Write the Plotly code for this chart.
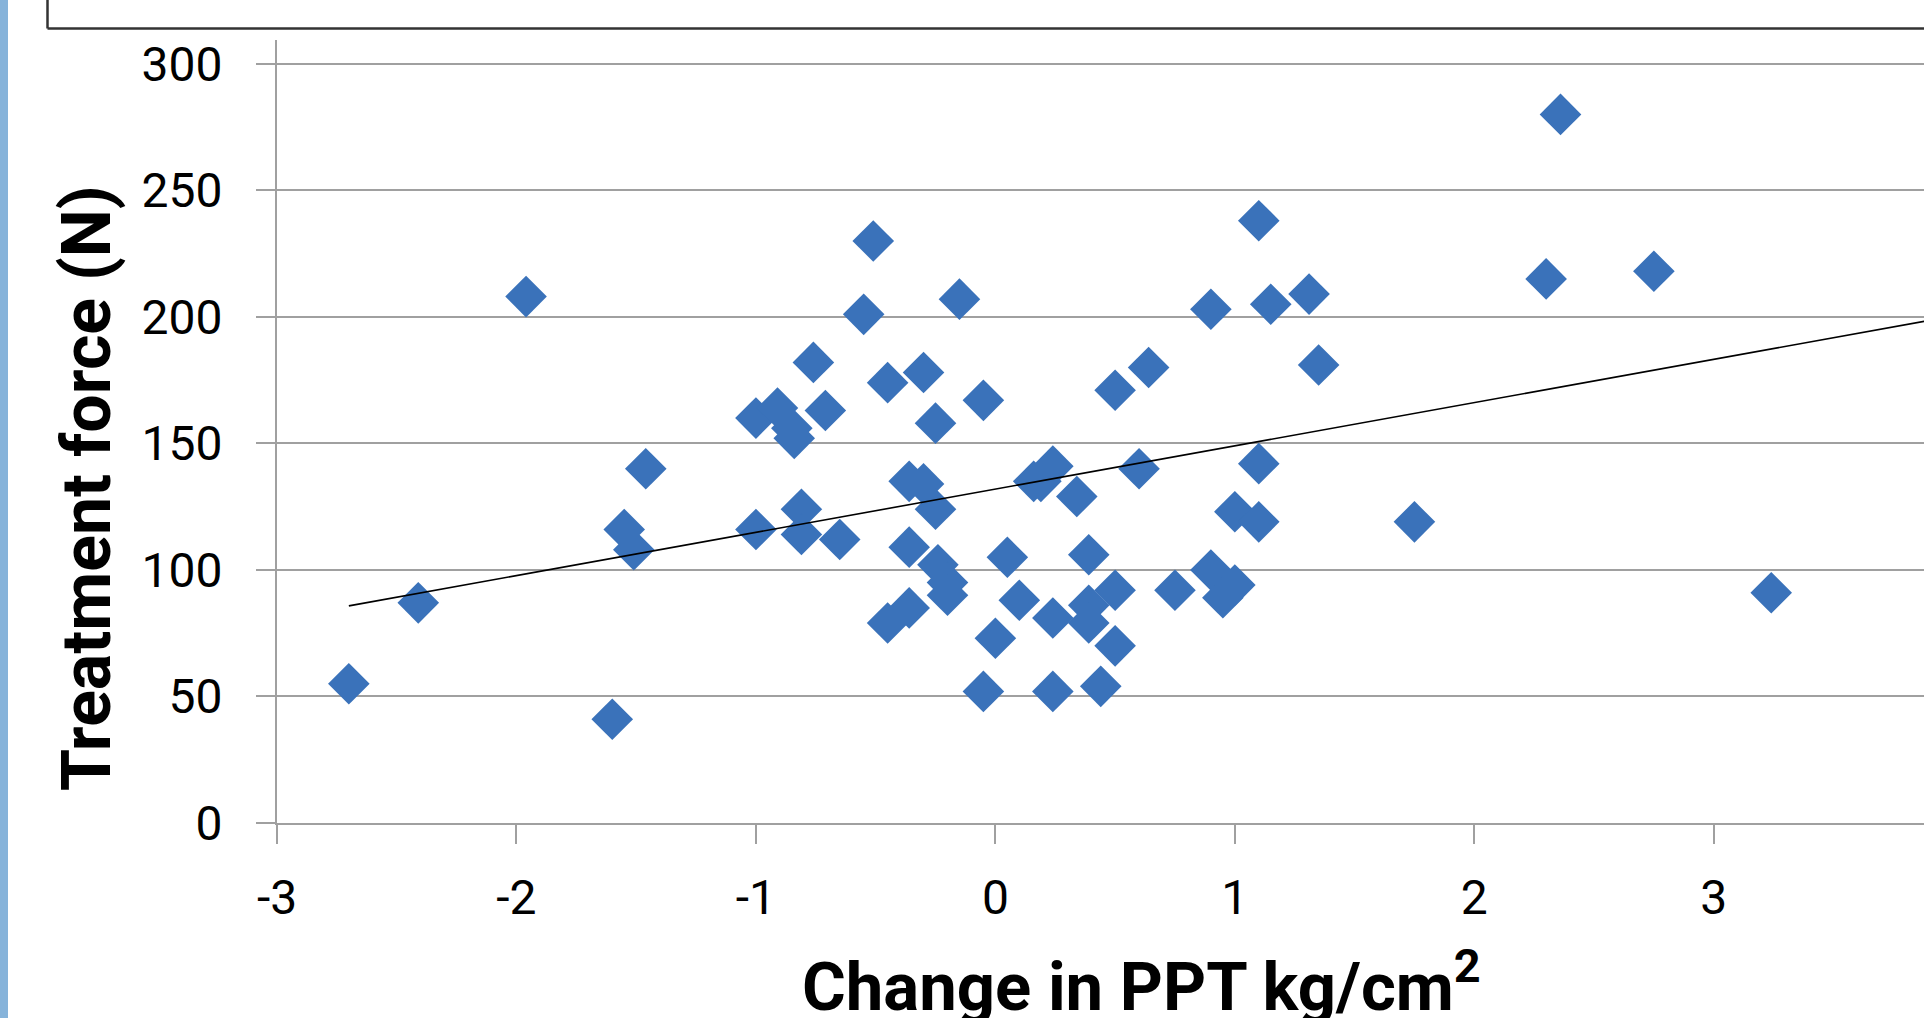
import plotly.graph_objects as go

# Data
ppt_change = [-2.70, -2.41, -1.96, -1.60, -1.55, -1.51, -1.46, -1.00, -1.00, -0.91,
              -0.85, -0.84, -0.81, -0.81, -0.76, -0.71, -0.65, -0.55, -0.51, -0.45,
              -0.45, -0.36, -0.36, -0.36, -0.30, -0.30, -0.25, -0.25, -0.24, -0.20,
              -0.20, -0.15, -0.05, -0.05, 0.00, 0.05, 0.10, 0.16, 0.19, 0.24,
              0.24, 0.24, 0.34, 0.39, 0.39, 0.39, 0.44, 0.50, 0.50, 0.50,
              0.60, 0.64, 0.75, 0.90, 0.90, 0.95, 1.00, 1.00, 1.10, 1.10,
              1.10, 1.15, 1.31, 1.35, 1.75, 2.30, 2.36, 2.75, 3.24]
treatment_force = [55, 87, 208, 41, 116, 108, 140, 160, 116, 164,
                   156, 152, 124, 114, 182, 163, 112, 201, 230, 174,
                   79, 85, 135, 109, 178, 134, 158, 124, 102, 95,
                   90, 207, 167, 52, 73, 105, 88, 135, 135, 141,
                   81, 52, 129, 106, 86, 79, 54, 92, 70, 171,
                   140, 180, 92, 203, 100, 89, 94, 123, 238, 142,
                   119, 205, 209, 181, 119, 215, 280, 218, 91]

# Linear trendline end points
trend_x = [-2.70, 4.00]
trend_y = [85.8, 200.3]

x_tickvals = [-3, -2, -1, 0, 1, 2, 3]
x_ticktext = ["-3", "-2", "-1", "0", "1", "2", "3"]
y_tickvals = [0, 50, 100, 150, 200, 250, 300]
y_ticktext = ["0", "50", "100", "150", "200", "250", "300"]

x_title = "Change in PPT kg/cm<sup>2</sup>"
y_title = "Treatment force (N)"

GRID = "#A0A0A0"
FONT = "Roboto"

fig = go.Figure()
fig.add_trace(go.Scatter(
    x=ppt_change, y=treatment_force, mode="markers",
    marker=dict(symbol="diamond", size=32, color="#3A72BA", line=dict(width=0)),
    hoverinfo="x+y",
))
fig.add_trace(go.Scatter(
    x=trend_x, y=trend_y, mode="lines",
    line=dict(color="#000000", width=1.6),
    hoverinfo="skip",
))

W, H = 1924, 1018
ml, mr, mt, mb = 277, 0, 40, 195
pw = W - ml - mr
ph = H - mt - mb


def px_x(p):
    return (p - ml) / pw


def px_y(p):
    return (H - mb - p) / ph


fig.update_layout(
    width=W, height=H,
    margin=dict(l=ml, r=mr, t=mt, b=mb, pad=0),
    paper_bgcolor="white", plot_bgcolor="white",
    showlegend=False,
    font=dict(family=FONT, color="#000000"),
    xaxis=dict(
        range=[-3, 3.878], tickmode="array", tickvals=x_tickvals, ticktext=x_ticktext,
        ticks="outside", ticklen=19, tickwidth=2, tickcolor=GRID,
        showline=True, linecolor=GRID, linewidth=2,
        showgrid=False, zeroline=False,
        tickfont=dict(family=FONT, size=48, color="#000000"),
        ticklabelstandoff=12,
    ),
    yaxis=dict(
        range=[0, 309.4], tickmode="array", tickvals=y_tickvals, ticktext=y_ticktext,
        ticks="outside", ticklen=19, tickwidth=2, tickcolor=GRID,
        showline=True, linecolor=GRID, linewidth=2,
        showgrid=True, gridcolor=GRID, gridwidth=2, zeroline=False,
        tickfont=dict(family=FONT, size=48, color="#000000"),
        ticklabelstandoff=24,
    ),
    shapes=[
        # light blue strip at the left edge
        dict(type="rect", xref="paper", yref="paper",
             x0=px_x(-5), x1=px_x(8), y0=px_y(H + 5), y1=px_y(-5),
             fillcolor="#86B3DA", line=dict(width=0), layer="above"),
        # border of the box above the chart
        dict(type="line", xref="paper", yref="paper",
             x0=px_x(47.5), x1=px_x(47.5), y0=px_y(28.5), y1=px_y(-5),
             line=dict(color="#333333", width=2.5)),
        dict(type="line", xref="paper", yref="paper",
             x0=px_x(47.5), x1=px_x(W + 5), y0=px_y(28.5), y1=px_y(28.5),
             line=dict(color="#333333", width=2.5)),
    ],
    annotations=[
        dict(text=x_title, xref="paper", yref="paper",
             x=px_x(1141.7), y=px_y(982), xanchor="center", yanchor="middle",
             showarrow=False, font=dict(family=FONT, size=67, color="#000000", weight="bold")),
        dict(text=y_title, xref="paper", yref="paper", textangle=-90,
             x=px_x(87), y=px_y(488), xanchor="center", yanchor="middle",
             showarrow=False, font=dict(family=FONT, size=68, color="#000000", weight="bold")),
    ],
)

fig.write_html(
    "out.html",
    config={"displayModeBar": False},
    post_script="document.body.style.margin='0';document.body.style.overflow='hidden';",
)
